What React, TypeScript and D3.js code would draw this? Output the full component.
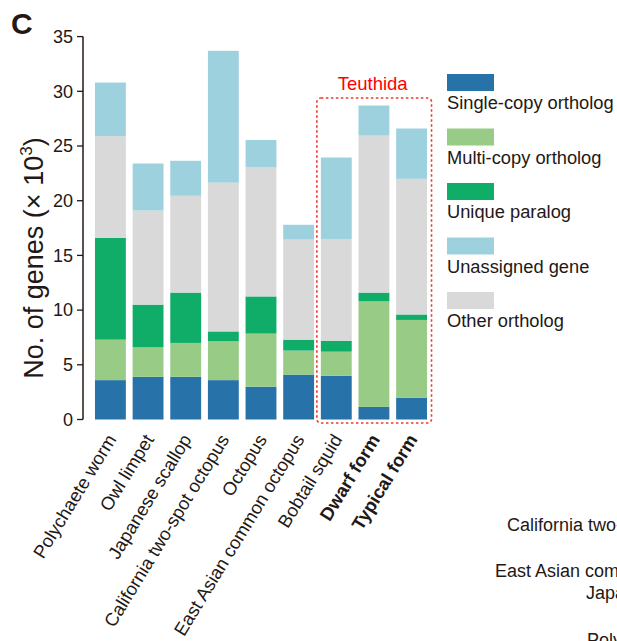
import React from "react";
import * as d3 from "d3";

const categories = [
  "Polychaete worm",
  "Owl limpet",
  "Japanese scallop",
  "California two-spot octopus",
  "Octopus",
  "East Asian common octopus",
  "Bobtail squid",
  "Dwarf form",
  "Typical form",
];
const boldCategories = ["Dwarf form", "Typical form"];

// values in thousands of genes
const singleCopy = [3.6, 3.9, 3.9, 3.6, 3.0, 4.1, 4.0, 1.15, 2.0];
const multiCopy = [3.7, 2.7, 3.1, 3.55, 4.85, 2.2, 2.2, 9.65, 7.1];
const uniqueParalog = [9.3, 3.9, 4.6, 0.9, 3.4, 1.0, 1.0, 0.8, 0.5];
const otherOrtholog = [9.3, 8.6, 8.85, 13.6, 11.8, 9.15, 9.3, 14.35, 12.4];
const unassignedGene = [4.9, 4.3, 3.2, 12.05, 2.5, 1.35, 7.45, 2.75, 4.6];

const yTicks = [0, 5, 10, 15, 20, 25, 30, 35];

const seriesKeys = ["single", "multi", "unique", "other", "unassigned"];
const seriesColors: Record<string, string> = {
  single: "#2872aa",
  multi: "#97cb86",
  unique: "#0fad68",
  other: "#d9d9d9",
  unassigned: "#9dd1de",
};
const legendItems = [
  { key: "single", label: "Single-copy ortholog" },
  { key: "multi", label: "Multi-copy ortholog" },
  { key: "unique", label: "Unique paralog" },
  { key: "unassigned", label: "Unassigned gene" },
  { key: "other", label: "Other ortholog" },
];

const sideTexts = [
  { text: "California two-spot octopus", x: 507, y: 531 },
  { text: "East Asian common octopus", x: 495, y: 577 },
  { text: "Japanese scallop", x: 586, y: 599 },
  { text: "Polychaete worm", x: 587, y: 646 },
];

const TXT = "#231815";
const FONT = "Liberation Sans, Arial, sans-serif";

export default function App() {
  const width = 617;
  const height = 641;

  const rows = categories.map((c, i) => ({
    cat: c,
    single: singleCopy[i],
    multi: multiCopy[i],
    unique: uniqueParalog[i],
    other: otherOrtholog[i],
    unassigned: unassignedGene[i],
  }));

  const stacked = d3.stack<any>().keys(seriesKeys)(rows);

  const x = d3
    .scaleBand<string>()
    .domain(categories)
    .range([88.2, 433.8])
    .padding(0.18);
  const y = d3.scaleLinear().domain([0, 35]).range([419.5, 36.6]);

  const axisX = 83;
  const teuthStart = (x("Bobtail squid") as number) - 4;
  const teuthEnd = (x("Typical form") as number) + x.bandwidth() + 4.5;

  return (
    <svg
      width={width}
      height={height}
      style={{ position: "absolute", left: 0, top: 0, background: "#fff" }}
      fontFamily={FONT}
    >
      <text x={11} y={34} fontSize={30} fontWeight="bold" fill={TXT}>
        C
      </text>

      {/* bars */}
      {stacked.map((s) => (
        <g key={s.key} fill={seriesColors[s.key]}>
          {s.map((d, i) => (
            <rect
              key={i}
              x={x(categories[i])}
              width={x.bandwidth()}
              y={y(d[1])}
              height={y(d[0]) - y(d[1])}
            />
          ))}
        </g>
      ))}

      {/* y axis */}
      <line
        x1={axisX}
        x2={axisX}
        y1={y(35)}
        y2={y(0)}
        stroke={TXT}
        strokeWidth={1.5}
      />
      {yTicks.map((t) => (
        <g key={t}>
          <line
            x1={axisX - 6}
            x2={axisX}
            y1={y(t)}
            y2={y(t)}
            stroke={TXT}
            strokeWidth={1.3}
          />
          <text
            x={axisX - 10}
            y={y(t)}
            dy="0.35em"
            textAnchor="end"
            fontSize={18}
            fill={TXT}
          >
            {t}
          </text>
        </g>
      ))}
      <text
        transform={`translate(43,${(y(0) + y(35)) / 2 + 30}) rotate(-90)`}
        textAnchor="middle"
        fontSize={27}
        fill={TXT}
      >
        No. of genes (× 10
        <tspan fontSize={17} dy={-11}>
          3
        </tspan>
        <tspan dy={11}>)</tspan>
      </text>

      {/* x labels */}
      {categories.map((c) => {
        const cx = (x(c) as number) + x.bandwidth() / 2 + 1;
        return (
          <text
            key={c}
            transform={`translate(${cx},${436}) rotate(-58.5)`}
            textAnchor="end"
            dy="0.35em"
            fontSize={18.4}
            fontWeight={boldCategories.includes(c) ? "bold" : "normal"}
            fill={TXT}
          >
            {c}
          </text>
        );
      })}

      {/* Teuthida box */}
      <rect
        x={teuthStart}
        y={98}
        width={teuthEnd - teuthStart}
        height={325}
        rx={4}
        fill="none"
        stroke="#f03a2e"
        strokeWidth={1.6}
        strokeDasharray="2.5 2.5"
      />
      <text
        x={(teuthStart + teuthEnd) / 2 - 1.5}
        y={90}
        textAnchor="middle"
        fontSize={18.5}
        fill="#ff0000"
      >
        Teuthida
      </text>

      {/* legend */}
      {legendItems.map((l, i) => {
        const top = 74 + i * 54.5;
        return (
          <g key={l.key}>
            <rect
              x={447}
              y={top}
              width={47}
              height={17}
              fill={seriesColors[l.key]}
            />
            <text x={447} y={top + 35} fontSize={18.3} fill={TXT}>
              {l.label}
            </text>
          </g>
        );
      })}

      {/* partial texts from neighbouring panel */}
      {sideTexts.map((t) => (
        <text key={t.text} x={t.x} y={t.y} fontSize={18} fill={TXT}>
          {t.text}
        </text>
      ))}
    </svg>
  );
}
